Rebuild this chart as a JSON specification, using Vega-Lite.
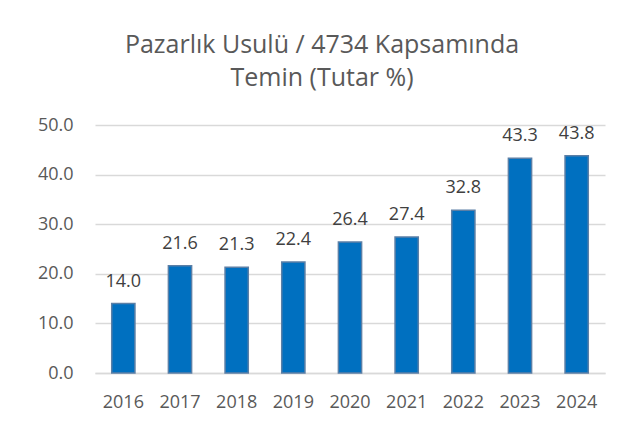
{
  "$schema": "https://vega.github.io/schema/vega-lite/v6.json",
  "width": 510,
  "height": 248,
  "autosize": {"type": "none"},
  "padding": {"left": 95, "top": 125, "right": 28, "bottom": 56},
  "background": "white",
  "config": {
    "font": "Open Sans",
    "view": {"stroke": null}
  },
  "title": {
    "text": ["Pazarlık Usulü / 4734 Kapsamında", "Temin (Tutar %)"],
    "fontSize": 25,
    "font": "Open Sans",
    "fontWeight": "normal",
    "color": "#595959",
    "lineHeight": 33,
    "anchor": "middle",
    "dx": -28,
    "offset": 25
  },
  "data": {
    "values": [
      {"year": "2016", "value": 14.0},
      {"year": "2017", "value": 21.6},
      {"year": "2018", "value": 21.3},
      {"year": "2019", "value": 22.4},
      {"year": "2020", "value": 26.4},
      {"year": "2021", "value": 27.4},
      {"year": "2022", "value": 32.8},
      {"year": "2023", "value": 43.3},
      {"year": "2024", "value": 43.8}
    ]
  },
  "encoding": {
    "x": {
      "field": "year",
      "type": "nominal",
      "sort": null,
      "scale": {"paddingInner": 0.59, "paddingOuter": 0.295},
      "axis": {
        "title": null,
        "labelAngle": 0,
        "labelFontSize": 18,
        "labelColor": "#595959",
        "labelPadding": 20,
        "labelBaseline": "top",
        "ticks": false,
        "domain": true,
        "domainColor": "#D9D9D9",
        "domainWidth": 1.5
      }
    },
    "y": {
      "field": "value",
      "type": "quantitative",
      "scale": {"domain": [0, 50], "nice": false},
      "axis": {
        "title": null,
        "values": [0, 10, 20, 30, 40, 50],
        "format": ".1f",
        "labelFontSize": 18,
        "labelColor": "#595959",
        "labelPadding": 22,
        "ticks": false,
        "domain": false,
        "grid": true,
        "gridColor": "#D9D9D9",
        "gridWidth": 1.5
      }
    }
  },
  "layer": [
    {
      "mark": {"type": "bar", "color": "#0070C0", "stroke": "#5B7FA6", "strokeWidth": 1.5}
    },
    {
      "mark": {"type": "text", "baseline": "alphabetic", "dy": -17, "fontSize": 18, "color": "#404040"},
      "encoding": {"text": {"field": "value", "type": "quantitative", "format": ".1f"}}
    }
  ]
}
